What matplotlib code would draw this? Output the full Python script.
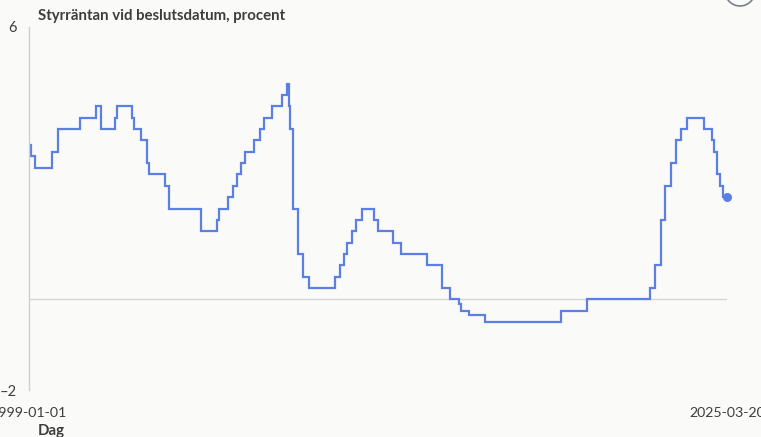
import numpy as np
import pandas as pd
import matplotlib
matplotlib.use("Agg")
import matplotlib.pyplot as plt
from matplotlib.patches import Ellipse

# Riksbank policy rate, decision / change dates
dates = [
    "1999-01-01", "1999-02-03", "1999-03-31", "1999-11-17", "2000-02-09",
    "2000-12-06", "2001-07-06", "2001-09-17", "2002-03-19", "2002-04-26",
    "2002-11-15", "2002-12-05", "2003-03-17", "2003-06-05", "2003-07-04",
    "2004-02-06", "2004-03-31", "2005-06-21", "2006-01-20", "2006-02-23",
    "2006-06-20", "2006-09-05", "2006-10-27", "2006-12-15", "2007-02-15",
    "2007-06-20", "2007-09-06", "2007-10-30", "2008-02-13", "2008-07-03",
    "2008-09-04", "2008-10-08", "2008-10-23", "2008-12-04", "2009-02-11",
    "2009-04-21", "2009-07-02", "2010-07-06", "2010-08-31", "2010-10-25",
    "2010-12-15", "2011-02-15", "2011-04-20", "2011-07-05", "2011-12-20",
    "2012-02-15", "2012-09-06", "2012-12-17", "2013-12-17", "2014-07-09",
    "2014-10-29", "2015-02-18", "2015-03-25", "2015-07-08", "2016-02-17",
    "2018-12-19", "2019-12-18", "2022-04-28", "2022-06-30", "2022-09-20",
    "2022-11-24", "2023-02-09", "2023-04-26", "2023-06-29", "2023-09-21",
    "2024-05-08", "2024-08-20", "2024-09-25", "2024-11-07", "2024-12-19",
    "2025-01-29", "2025-03-20",
]
rates = [
    3.40, 3.15, 2.90, 3.25, 3.75,
    4.00, 4.25, 3.75, 4.00, 4.25,
    4.00, 3.75, 3.50, 3.00, 2.75,
    2.50, 2.00, 1.50, 1.75, 2.00,
    2.25, 2.50, 2.75, 3.00, 3.25,
    3.50, 3.75, 4.00, 4.25, 4.50,
    4.75, 4.25, 3.75, 2.00, 1.00,
    0.50, 0.25, 0.50, 0.75, 1.00,
    1.25, 1.50, 1.75, 2.00, 1.75,
    1.50, 1.25, 1.00, 0.75, 0.25,
    0.00, -0.10, -0.25, -0.35, -0.50,
    -0.25, 0.00, 0.25, 0.75, 1.75,
    2.50, 3.00, 3.50, 3.75, 4.00,
    3.75, 3.50, 3.25, 2.75, 2.50,
    2.25, 2.25,
]
y_ticks = [-2, 6]
x_ticks = ["1999-01-01", "2025-03-20"]

title = "Styrräntan vid beslutsdatum, procent"
x_title = "Dag"

bg = "#fafaf9"
blue = "#5b7fe4"
text_col = "#3d3d3d"
font = ["Lato", "DejaVu Sans"]

W, H = 761, 437
fig = plt.figure(figsize=(W / 100, H / 100), dpi=100, facecolor=bg)
ax = fig.add_axes([29 / W, (H - 390) / H, 698 / W, 363 / H])
ax.set_facecolor(bg)

d = pd.to_datetime(dates)
ax.plot(d, rates, drawstyle="steps-post", color=blue, lw=1.6, solid_joinstyle="miter")
ax.plot(d[-1:], rates[-1:], "o", color=blue, ms=6.5, mec="none", clip_on=False, zorder=5)

ax.axhline(0, color="#d6d6d6", lw=1, zorder=0)

ax.set_xlim(pd.Timestamp(x_ticks[0]), pd.Timestamp(x_ticks[1]))
ax.set_ylim(y_ticks[0], y_ticks[-1])
ax.set_xticks(pd.to_datetime(x_ticks))
ax.set_xticklabels(x_ticks)
ax.set_yticks(y_ticks)
ax.set_yticklabels([str(v).replace("-", "\u2013") for v in y_ticks])

for s in ["top", "right", "bottom"]:
    ax.spines[s].set_visible(False)
ax.spines["left"].set_color("#cfcfcf")
ax.spines["left"].set_linewidth(1)
ax.tick_params(axis="both", length=0, labelcolor=text_col)
ax.tick_params(axis="x", pad=12, labelsize=10.2)
ax.tick_params(axis="y", pad=9, labelsize=10.5)
for lab in ax.get_xticklabels() + ax.get_yticklabels():
    lab.set_family(font)

fig.text(38 / W, 1 - 16 / H, title, fontsize=10.8, fontweight="bold",
         color=text_col, family=font, va="center", ha="left")
fig.text(38 / W, 1 - 431 / H, x_title, fontsize=10.8, fontweight="bold",
         color=text_col, family=font, va="center", ha="left")

# cut-off round button in the corner
fig.add_artist(Ellipse((740 / W, 1 + 9 / H), 30 / W, 30 / H, fill=False,
                       ec="#7a7f88", lw=1.2))

fig.savefig("out.png", dpi=100, facecolor=bg)
